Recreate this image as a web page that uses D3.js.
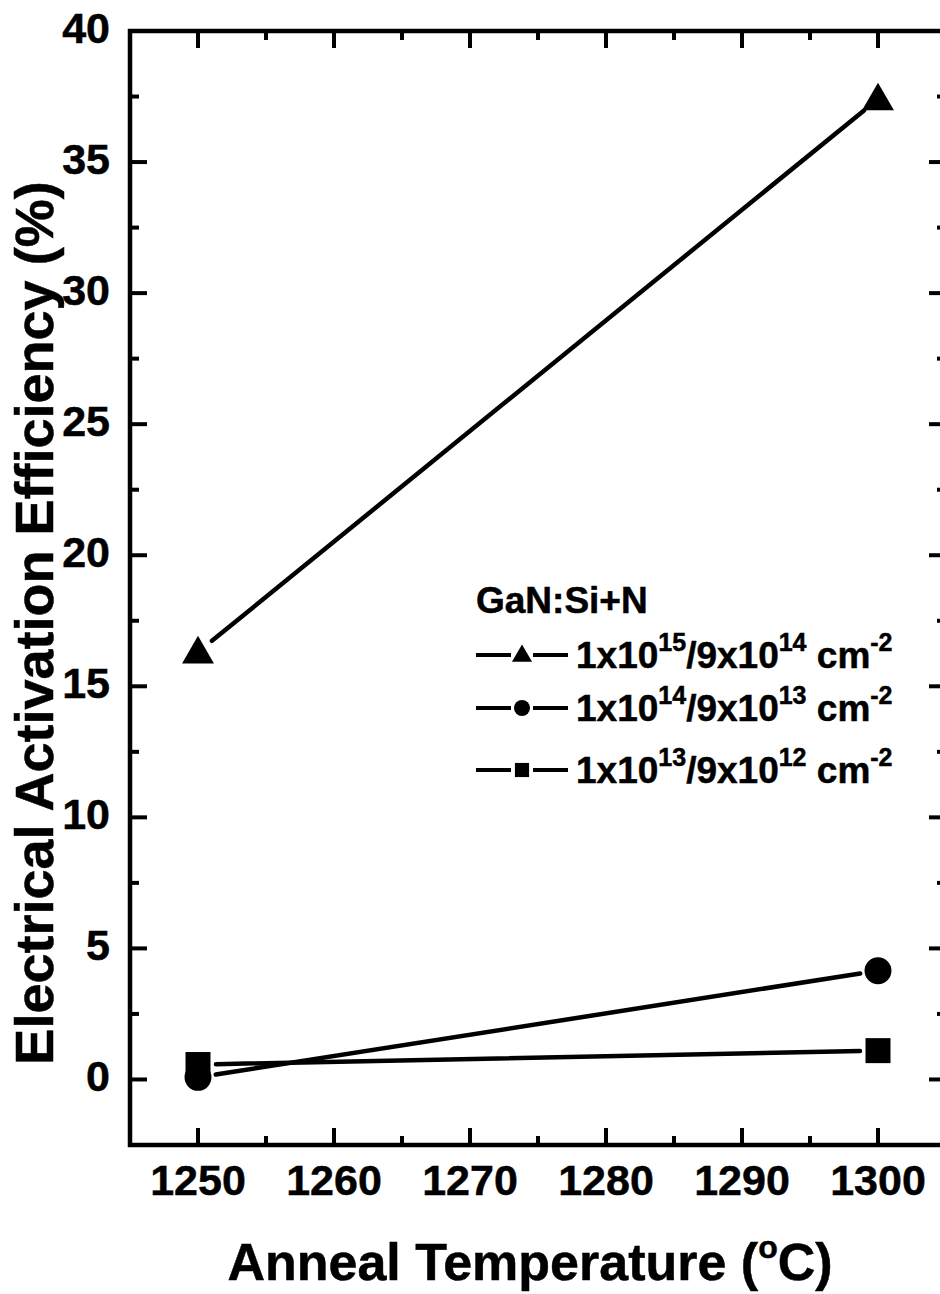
<!DOCTYPE html>
<html>
<head>
<meta charset="utf-8">
<script src="https://cdn.jsdelivr.net/npm/d3@7"></script>
<style>
  html, body { margin: 0; padding: 0; background: #fff; }
  svg { display: block; font-family: "Liberation Sans", Arial, sans-serif; font-weight: bold; }
  text { stroke: #000; stroke-width: 0.5px; }
</style>
</head>
<body>
<div id="app"></div>
<script>
// anneal temperatures (°C)
const temps = [1250, 1300];
// activation efficiency (%) per dose
const highDose = [16.3, 37.4];   // 1x10^15 / 9x10^14
const midDose = [0.08, 4.15];    // 1x10^14 / 9x10^13
const lowDose = [0.57, 1.1];     // 1x10^13 / 9x10^12

const xTicks = [1250, 1260, 1270, 1280, 1290, 1300];
const yTicks = [0, 5, 10, 15, 20, 25, 30, 35, 40];

const legendTitle = 'GaN:Si+N';
const legendLabels = [
    ['1x10', '15', '/9x10', '14', ' cm', '-2'],
    ['1x10', '14', '/9x10', '13', ' cm', '-2'],
    ['1x10', '13', '/9x10', '12', ' cm', '-2'],
];

const width = 940;
const height = 1294;

const x = d3.scaleLinear().domain([1245, 1305]).range([130, 946]);
const y = d3.scaleLinear().domain([-2.5, 40]).range([1145, 31]);

const svg = d3.select('#app').append('svg')
    .attr('width', width)
    .attr('height', height);

const axisG = svg.append('g');

// frame
axisG.append('rect')
    .attr('x', x.range()[0])
    .attr('y', y.range()[1])
    .attr('width', x.range()[1] - x.range()[0])
    .attr('height', y.range()[0] - y.range()[1])
    .attr('fill', 'none')
    .attr('stroke', '#000')
    .attr('stroke-width', 4.5);

const majorLen = 17;
const minorLen = 9;
const xMinor = d3.range(1245, 1306, 5);
const yMinor = d3.range(-2.5, 40.1, 2.5);

// ticks, all pointing inward
xMinor.forEach(v => {
    const len = xTicks.includes(v) ? majorLen : minorLen;
    axisG.append('line')
        .attr('x1', x(v)).attr('x2', x(v))
        .attr('y1', y.range()[0]).attr('y2', y.range()[0] - len)
        .attr('stroke', '#000').attr('stroke-width', 4);
    axisG.append('line')
        .attr('x1', x(v)).attr('x2', x(v))
        .attr('y1', y.range()[1]).attr('y2', y.range()[1] + len)
        .attr('stroke', '#000').attr('stroke-width', 4);
});
yMinor.forEach(v => {
    const len = yTicks.includes(v) ? majorLen : minorLen;
    axisG.append('line')
        .attr('x1', x.range()[0]).attr('x2', x.range()[0] + len)
        .attr('y1', y(v)).attr('y2', y(v))
        .attr('stroke', '#000').attr('stroke-width', 4);
    axisG.append('line')
        .attr('x1', x.range()[1]).attr('x2', x.range()[1] - len)
        .attr('y1', y(v)).attr('y2', y(v))
        .attr('stroke', '#000').attr('stroke-width', 4);
});

// tick labels
axisG.selectAll('.xlab')
    .data(xTicks)
    .enter().append('text')
    .attr('x', d => x(d))
    .attr('y', 1195)
    .attr('text-anchor', 'middle')
    .style('font-size', '43px')
    .text(d => d);

axisG.selectAll('.ylab')
    .data(yTicks)
    .enter().append('text')
    .attr('x', 110)
    .attr('y', d => y(d) + 12)
    .attr('text-anchor', 'end')
    .style('font-size', '43px')
    .text(d => d);

// axis titles
const xTitle = svg.append('text')
    .attr('x', 530)
    .attr('y', 1280)
    .attr('text-anchor', 'middle')
    .style('font-size', '52px');
xTitle.append('tspan').text('Anneal Temperature (');
xTitle.append('tspan').attr('dy', -22).style('font-size', '32px').text('o');
xTitle.append('tspan').attr('dy', 22).text('C)');

svg.append('text')
    .attr('transform', 'translate(53,623) rotate(-90)')
    .attr('text-anchor', 'middle')
    .style('font-size', '54px')
    .text('Electrical Activation Efficiency (%)');

// markers
const shapes = [d3.symbolTriangle, d3.symbolCircle, d3.symbolSquare];
const series = [highDose, midDose, lowDose];
const markerSize = [440, 570, 625];
const legendSize = [175, 200, 200];

const gap = 18;
series.forEach((vals, i) => {
    const pts = temps.map((t, j) => [x(t), y(vals[j])]);
    for (let j = 0; j < pts.length - 1; j += 1) {
        const [x0, y0] = pts[j];
        const [x1, y1] = pts[j + 1];
        const len = Math.hypot(x1 - x0, y1 - y0);
        const ux = (x1 - x0) / len;
        const uy = (y1 - y0) / len;
        svg.append('line')
            .attr('x1', x0 + ux * gap).attr('y1', y0 + uy * gap)
            .attr('x2', x1 - ux * gap).attr('y2', y1 - uy * gap)
            .attr('stroke', '#000')
            .attr('stroke-width', 4.5)
            .attr('stroke-linecap', 'round');
    }
    svg.append('g').selectAll('path')
        .data(pts)
        .enter().append('path')
        .attr('transform', d => `translate(${d[0]},${d[1] + (i === 0 ? 2 : 0)})`)
        .attr('d', d3.symbol().type(shapes[i]).size(markerSize[i]))
        .attr('fill', '#000');
});

// legend
const legend = svg.append('g');
legend.append('text')
    .attr('x', 476)
    .attr('y', 613)
    .style('font-size', '37px')
    .text(legendTitle);

const rowY = [655, 708, 770];
legendLabels.forEach((parts, i) => {
    const cy = rowY[i];
    legend.append('line')
        .attr('x1', 476).attr('x2', 568)
        .attr('y1', cy).attr('y2', cy)
        .attr('stroke', '#000').attr('stroke-width', 4);
    legend.append('rect')
        .attr('x', 511).attr('y', cy - 12)
        .attr('width', 22).attr('height', 24)
        .attr('fill', '#fff');
    legend.append('path')
        .attr('transform', `translate(522,${cy + (i === 0 ? 1 : 0)})`)
        .attr('d', d3.symbol().type(shapes[i]).size(legendSize[i]))
        .attr('fill', '#000');
    const t = legend.append('text')
        .attr('x', 576)
        .attr('y', cy + 13)
        .style('font-size', '37px');
    parts.forEach((p, k) => {
        const sup = k % 2 === 1;
        t.append('tspan')
            .attr('dy', k === 0 ? 0 : (sup ? -17 : 17))
            .style('font-size', sup ? '25px' : '37px')
            .text(p);
    });
});
</script>
</body>
</html>
